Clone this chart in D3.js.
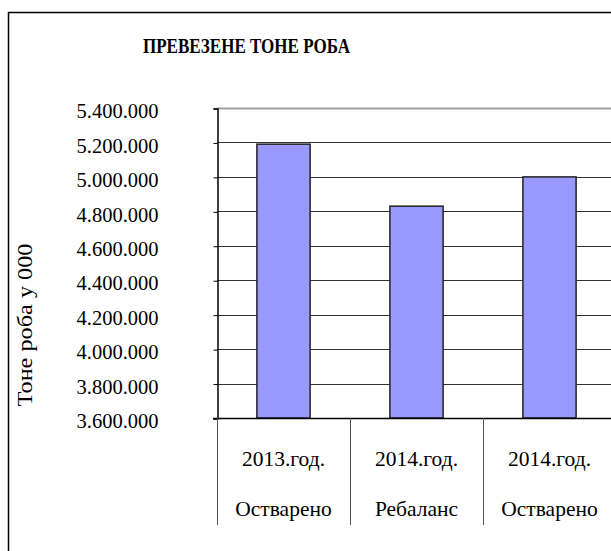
<!DOCTYPE html>
<html>
<head>
<meta charset="utf-8">
<script src="https://cdn.jsdelivr.net/npm/d3@7"></script>
<style>
  body { margin: 0; background: #fff; }
</style>
</head>
<body>
<svg width="611" height="551" font-family="'Liberation Serif', 'Times New Roman', serif"></svg>
<script>
// data
var years = ["2013.год.", "2014.год.", "2014.год."];
var kinds = ["Остварено", "Ребаланс", "Остварено"];
var tonnes = [5190000, 4830000, 5000000];
var yTicks = [3600000, 3800000, 4000000, 4200000, 4400000, 4600000, 4800000, 5000000, 5200000, 5400000];

var svg = d3.select("svg");

// plot area
var plot = {left: 217, right: 616, top: 108, bottom: 418};

var loc = d3.formatLocale({decimal: ",", thousands: ".", grouping: [3], currency: ["", ""]});
var fmt = loc.format(",d");

var y = d3.scaleLinear()
  .domain([3600000, 5400000])
  .range([plot.bottom, plot.top]);

var x = d3.scaleBand()
  .domain(d3.range(years.length))
  .range([plot.left, plot.right])
  .padding(0);

// outer frame
svg.append("rect")
  .attr("x", 8.5).attr("y", 12.5)
  .attr("width", 700).attr("height", 700)
  .attr("fill", "none")
  .attr("stroke", "#000")
  .attr("stroke-width", 1.5);

// title
svg.append("text")
  .attr("x", 143).attr("y", 53)
  .attr("textLength", 207)
  .attr("lengthAdjust", "spacingAndGlyphs")
  .style("font-weight", "bold")
  .style("font-size", "20px")
  .text("ПРЕВЕЗЕНЕ ТОНЕ РОБА");

// gridlines
svg.append("g")
  .selectAll("line")
  .data(yTicks.slice(1))
  .enter()
  .append("line")
  .attr("x1", plot.left).attr("x2", plot.right)
  .attr("y1", function(d) { return Math.round(y(d)) + 0.5; })
  .attr("y2", function(d) { return Math.round(y(d)) + 0.5; })
  .attr("stroke", function(d) { return d == 5400000 ? "#a0a0a0" : "#333"; })
  .attr("stroke-width", function(d) { return d == 5400000 ? 2 : 1; });

// y axis
var yAxis = d3.axisLeft(y)
  .tickValues(yTicks)
  .tickFormat(fmt)
  .tickSize(4)
  .tickPadding(55);

var ga = svg.append("g")
  .attr("transform", "translate(" + (plot.left + 0.5) + ",0.5)")
  .call(yAxis)
  .attr("font-family", null)
  .attr("font-size", null);
ga.select(".domain").attr("stroke", "#000").attr("stroke-width", 1.5);
ga.selectAll(".tick line").attr("stroke", "#000");
ga.selectAll(".tick text")
  .attr("dy", "0.45em")
  .style("font-size", "20.5px")
  .attr("fill", "#000");

// bars
var barW = x.bandwidth() * 0.4;
svg.append("g")
  .selectAll("rect")
  .data(tonnes)
  .enter()
  .append("rect")
  .attr("x", function(d, i) { return x(i) + (x.bandwidth() - barW) / 2; })
  .attr("y", function(d) { return y(d); })
  .attr("width", barW)
  .attr("height", function(d) { return plot.bottom - y(d); })
  .attr("fill", "#9999ff")
  .attr("stroke", "#222")
  .attr("stroke-width", 1.5);

// category axis
svg.append("line")
  .attr("x1", plot.left - 4).attr("x2", plot.right)
  .attr("y1", plot.bottom + 0.5).attr("y2", plot.bottom + 0.5)
  .attr("stroke", "#000")
  .attr("stroke-width", 1.5);

svg.append("g")
  .selectAll("line")
  .data(d3.range(years.length + 1))
  .enter()
  .append("line")
  .attr("x1", function(i) { return (i < years.length ? x(i) : plot.right) + 0.5; })
  .attr("x2", function(i) { return (i < years.length ? x(i) : plot.right) + 0.5; })
  .attr("y1", plot.bottom).attr("y2", 525)
  .attr("stroke", "#555")
  .attr("stroke-width", 1);

var cat = svg.append("g")
  .style("font-size", "21.5px")
  .attr("text-anchor", "middle");
cat.selectAll(".yr")
  .data(years)
  .enter()
  .append("text")
  .attr("x", function(d, i) { return x(i) + x.bandwidth() / 2; })
  .attr("y", 466)
  .text(function(d) { return d; });
cat.selectAll(".kd")
  .data(kinds)
  .enter()
  .append("text")
  .attr("x", function(d, i) { return x(i) + x.bandwidth() / 2; })
  .attr("y", 516)
  .text(function(d) { return d; });

// y title
svg.append("text")
  .attr("transform", "translate(32,325) rotate(-90)")
  .attr("text-anchor", "middle")
  .attr("textLength", 163)
  .attr("lengthAdjust", "spacingAndGlyphs")
  .style("font-size", "21px")
  .text("Тоне роба у 000");
</script>
</body>
</html>
